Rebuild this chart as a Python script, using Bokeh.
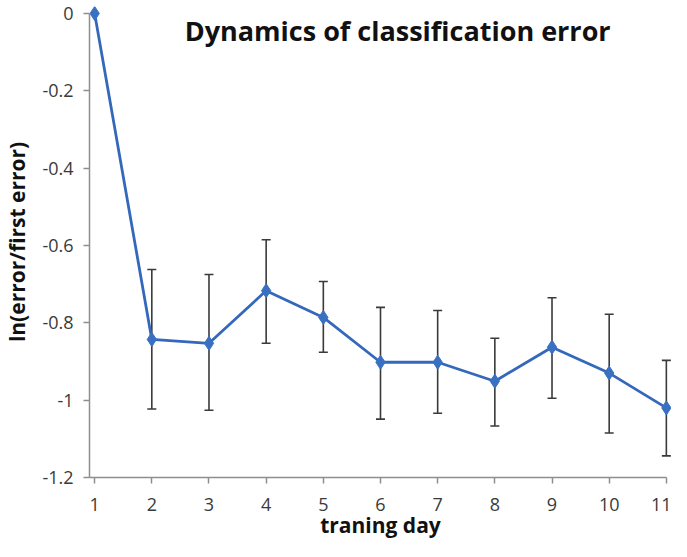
from bokeh.plotting import figure
from bokeh.models import ColumnDataSource, Whisker, TeeHead, Label, FixedTicker, Range1d
from bokeh.embed import file_html
from bokeh.resources import INLINE

days = [1, 2, 3, 4, 5, 6, 7, 8, 9, 10, 11]
log_err = [0.0, -0.843, -0.853, -0.717, -0.786, -0.902, -0.902, -0.951, -0.863, -0.930, -1.020]
err_upper = [0.0, -0.662, -0.675, -0.585, -0.693, -0.760, -0.768, -0.840, -0.735, -0.778, -0.897]
err_lower = [0.0, -1.023, -1.026, -0.853, -0.876, -1.049, -1.034, -1.067, -0.995, -1.085, -1.144]
y_ticks = [0, -0.2, -0.4, -0.6, -0.8, -1.0, -1.2]
y_tick_labels = ["0", "-0.2", "-0.4", "-0.6", "-0.8", "-1", "-1.2"]
title_text = "Dynamics of classification error"

src = ColumnDataSource(dict(x=days, y=log_err, upper=err_upper, lower=err_lower))

FONT = "Open Sans"
p = figure(width=671, height=541, output_backend="svg", toolbar_location=None,
           x_range=Range1d(0.91, 11.09), y_range=Range1d(-1.2, 0.018),
           min_border_left=84, min_border_right=0, min_border_top=6, min_border_bottom=60)
p.outline_line_color = None
p.grid.visible = False
p.background_fill_color = "white"

# error bars (days 2..11)
eb = ColumnDataSource(dict(x=days[1:], upper=err_upper[1:], lower=err_lower[1:]))
w = Whisker(source=eb, base="x", upper="upper", lower="lower",
            line_color="#3a3a3a", line_width=1.6,
            upper_head=TeeHead(size=9, line_color="#3a3a3a", line_width=1.6),
            lower_head=TeeHead(size=9, line_color="#3a3a3a", line_width=1.6))
p.add_layout(w)

p.line("x", "y", source=src, line_color="#3468bb", line_width=2.8)
p.scatter("x", "y", source=src, marker="diamond", size=14, fill_color="#3a70c2", line_color="#3a70c2")

for ax in (p.xaxis[0], p.yaxis[0]):
    ax.axis_line_color = "#8e8e8e"
    ax.axis_line_width = 1.5
    ax.major_tick_line_color = "#8e8e8e"
    ax.major_tick_line_width = 1.5
    ax.major_tick_in = 0
    ax.major_tick_out = 6
    ax.minor_tick_line_color = None
    ax.major_label_text_font = FONT
    ax.major_label_text_font_size = "18px"
    ax.major_label_text_color = "#3a3a3a"
    ax.axis_label_text_font = FONT
    ax.axis_label_text_font_style = "bold"
    ax.axis_label_text_font_size = "21px"
    ax.axis_label_text_color = "#111111"

p.xaxis.ticker = FixedTicker(ticks=days)
p.xaxis.bounds = (0.91, 11)
p.xaxis.major_label_standoff = 14
p.xaxis.axis_label = "traning day"
p.xaxis.axis_label_standoff = -3

p.yaxis.ticker = FixedTicker(ticks=y_ticks)
p.yaxis.bounds = (-1.2, 0)
p.yaxis.major_label_overrides = dict(zip(y_ticks, y_tick_labels))
p.yaxis.major_label_standoff = 10
p.yaxis.axis_label = "ln(error/first error)"
p.yaxis.axis_label_standoff = 8

p.add_layout(Label(x=6.30, y=-0.045, text=title_text, text_font=FONT, text_font_style="bold",
                   text_font_size="27px", text_align="center", text_baseline="alphabetic",
                   text_color="#111111"))

open("out.html", "w").write(file_html(p, INLINE))
